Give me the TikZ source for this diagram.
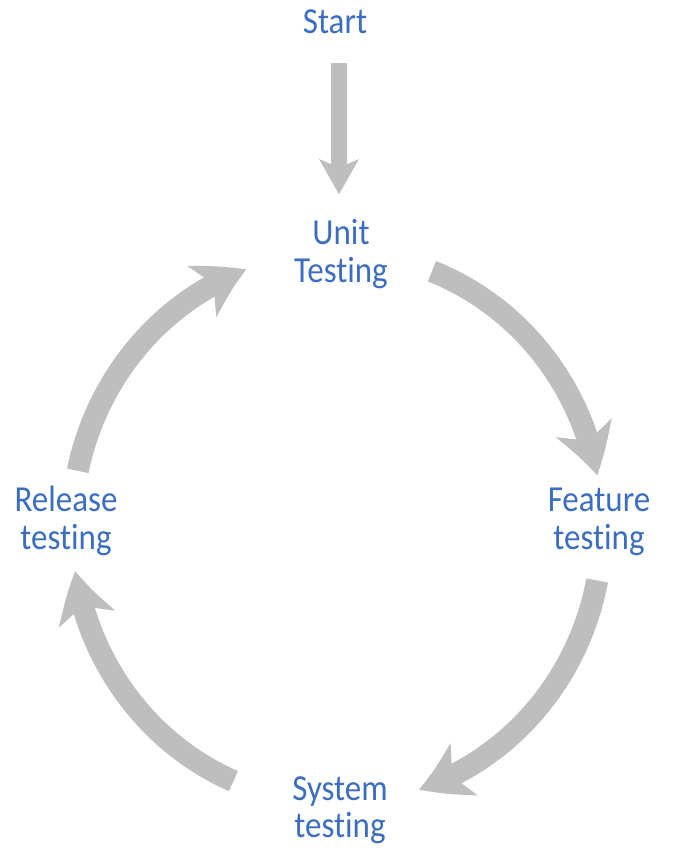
\documentclass[tikz,border=0pt]{standalone}
\usepackage{fontspec}
\setmainfont[FakeStretch=0.9, Ligatures=NoCommon]{Carlito}
\usepackage{xcolor}
\usepackage{tikz}
\usetikzlibrary{arrows.meta,bending,calc,positioning}

\definecolor{phaseblue}{RGB}{59,110,192}
\definecolor{arrowgray}{RGB}{190,190,190}

\begin{document}
\begin{tikzpicture}[x=0.75pt, y=0.75pt]
                    % Define styles
                    \tikzstyle{phase} = [text=phaseblue, align=center, inner sep=0pt, font=\fontsize{27.5pt}{28pt}\selectfont]
                    \tikzstyle{feed} = [draw=arrowgray, line width=12pt, -{Stealth[length=26pt, width=29pt, inset=6pt]}]
                    \tikzstyle{cycle} = [draw=arrowgray, line width=16.5pt, -{Stealth[length=37pt, width=43pt, inset=10pt, bend]}]
                    \useasboundingbox (0,0) rectangle (674,-853);

                    % Nodes
                    \node [phase] (start) at (335,-21.5) {Start};
                    \node [phase] (unit) at (341,-254) {Unit\\Testing};
                    \node [phase] (feature) at (599,-522) {Feature\\testing};
                    \node [phase] (system) at (340,-810) {System\\testing};
                    \node [phase] (release) at (66,-521) {Release\\testing};
                    \coordinate (c) at (337,-528);

                    % Arrows
                    \draw [feed] ([shift={(4,-29)}]start.south) -- ([shift={(-2,25)}]unit.north);
                    \draw [cycle] ($(c)+(69:265 and 275)$) arc [start angle=69, end angle=11, x radius=265, y radius=275];
                    \draw [cycle] ($(c)+(-11:265 and 275)$) arc [start angle=-11, end angle=-72, x radius=265, y radius=275];
                    \draw [cycle] ($(c)+(247:265 and 275)$) arc [start angle=247, end angle=189, x radius=265, y radius=275];
                    \draw [cycle] ($(c)+(168:265 and 275)$) arc [start angle=168, end angle=110, x radius=265, y radius=275];
                \end{tikzpicture}
\end{document}
